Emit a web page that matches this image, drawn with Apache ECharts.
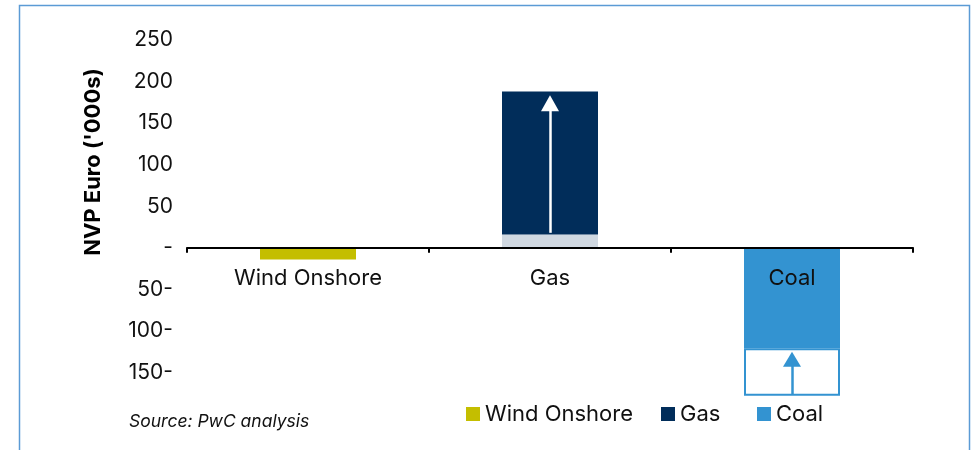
<!DOCTYPE html>
<html>
<head>
<meta charset="utf-8">
<script src="https://cdn.jsdelivr.net/npm/echarts@6/dist/echarts.min.js"></script>
<style>
  html, body { margin: 0; padding: 0; background: #ffffff; }
  #chart { width: 972px; height: 450px; }
</style>
</head>
<body>
<div id="chart"></div>
<script>
// Categories and NPV values (EUR '000s)
const categories = ['Wind Onshore', 'Gas', 'Coal'];
const windOnshore = [-14, '-', '-'];
const gasBase = ['-', 16, '-'];
const gas = ['-', 172, '-'];
const coal = ['-', '-', -121];
const coalGap = ['-', '-', -57];

// Arrow spans (value range) drawn inside the Gas and Coal bars
const gasArrow = [18, 174];
const coalArrow = [-176, -134];

// Value axis range
const yMin = -200;
const yMax = 250;
const yStep = 50;
const hiddenTicks = [-200];

const FONT = 'Inter';
const C_WIND = '#c4be00';
const C_GAS = '#012d5a';
const C_GAS_BASE = '#d0d8e1';
const C_COAL = '#3393d1';

const GRID_TOP = 40;
const GRID_HEIGHT = 374;
// the category axis sits on the zero line, so shift it up from the grid bottom
const zeroOffset = -GRID_HEIGHT * (0 - yMin) / (yMax - yMin);

function yLabel(v) {
  if (hiddenTicks.indexOf(v) >= 0) return '';
  if (v === 0) return '-';
  if (v < 0) return (-v) + '-';
  return String(v);
}

const chart = echarts.init(document.getElementById('chart'));

function legendItem(name, left) {
  return {
    data: [name],
    left: left,
    top: 398,
    padding: 5,
    itemWidth: 14,
    itemHeight: 14,
    icon: 'rect',
    itemGap: 0,
    selectedMode: false,
    textStyle: { fontFamily: FONT, fontSize: 22, color: '#111' }
  };
}

chart.setOption({
  animation: false,
  backgroundColor: '#ffffff',
  grid: {
    left: 187, right: 59, top: GRID_TOP, height: GRID_HEIGHT,
    containLabel: false, outerBoundsMode: 'none'
  },
  legend: [
    legendItem('Wind Onshore', 461),
    legendItem('Gas', 656),
    legendItem('Coal', 752)
  ],
  xAxis: {
    type: 'category',
    data: categories,
    z: 10,
    position: 'bottom',
    offset: zeroOffset,
    axisLine: { onZero: false, lineStyle: { color: '#000', width: 2 } },
    axisTick: { show: true, length: 5, lineStyle: { color: '#000', width: 2 } },
    axisLabel: { margin: 20, fontFamily: FONT, fontSize: 22, color: '#111' },
    splitLine: { show: false }
  },
  yAxis: {
    type: 'value',
    min: yMin,
    max: yMax,
    interval: yStep,
    axisLine: { show: false },
    axisTick: { show: false },
    splitLine: { show: false },
    axisLabel: {
      margin: 14,
      fontFamily: FONT,
      fontSize: 21,
      color: '#111',
      formatter: yLabel
    }
  },
  graphic: [
    {
      type: 'rect',
      silent: true,
      shape: { x: 19.5, y: 5.5, width: 950, height: 470 },
      style: { fill: 'none', stroke: '#5b9bd5', lineWidth: 1.5 },
      z: -1
    },
    {
      type: 'text',
      silent: true,
      x: 93,
      y: 162,
      rotation: Math.PI / 2,
      style: {
        text: "NVP Euro ('000s)",
        fontFamily: FONT,
        fontWeight: 'bold',
        fontSize: 22,
        fill: '#000',
        align: 'center',
        verticalAlign: 'middle'
      }
    },
    {
      type: 'text',
      silent: true,
      x: 129,
      y: 422,
      style: {
        text: 'Source: PwC analysis',
        fontFamily: FONT,
        fontStyle: 'italic',
        fontSize: 17.5,
        fill: '#111',
        align: 'left',
        verticalAlign: 'middle'
      }
    }
  ],
  series: [
    {
      name: 'Wind Onshore',
      type: 'bar',
      stack: 'total',
      barWidth: 96,
      data: windOnshore,
      itemStyle: { color: C_WIND }
    },
    {
      name: 'Gas base',
      type: 'bar',
      stack: 'total',
      barWidth: 96,
      data: gasBase,
      itemStyle: { color: C_GAS_BASE }
    },
    {
      name: 'Gas',
      type: 'bar',
      stack: 'total',
      barWidth: 96,
      data: gas,
      itemStyle: { color: C_GAS },
      markLine: {
        silent: true,
        symbol: ['none', 'triangle'],
        symbolSize: [18, 16],
        label: { show: false },
        lineStyle: { color: '#ffffff', width: 2.5, type: 'solid' },
        data: [[{ coord: [1, gasArrow[0]] }, { coord: [1, gasArrow[1]] }]]
      }
    },
    {
      name: 'Coal',
      type: 'bar',
      stack: 'total',
      barWidth: 96,
      data: coal,
      itemStyle: { color: C_COAL }
    },
    {
      name: 'Coal gap',
      type: 'bar',
      stack: 'total',
      barWidth: 96,
      data: coalGap,
      itemStyle: { color: '#ffffff', borderColor: C_COAL, borderWidth: 2 },
      markLine: {
        silent: true,
        symbol: ['none', 'triangle'],
        symbolSize: [18, 15],
        label: { show: false },
        lineStyle: { color: C_COAL, width: 2.5, type: 'solid' },
        data: [[{ coord: [2, coalArrow[0]] }, { coord: [2, coalArrow[1]] }]]
      }
    }
  ]
});
</script>
</body>
</html>
